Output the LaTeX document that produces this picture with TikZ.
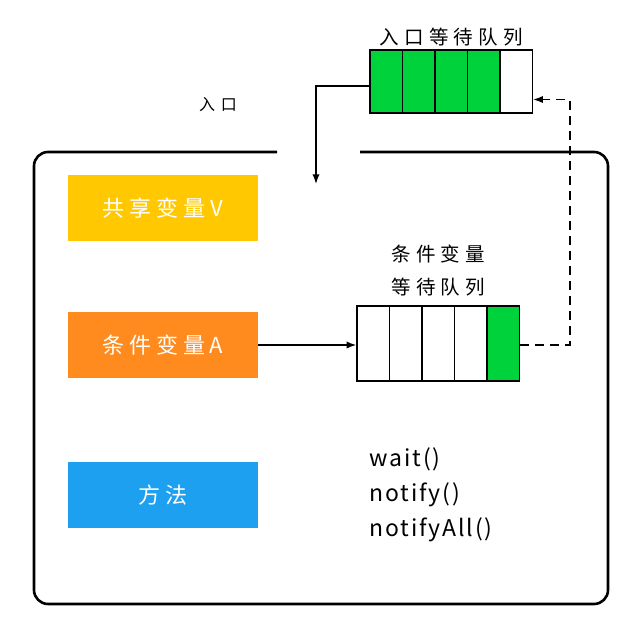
\documentclass[tikz,border=0pt]{standalone}
\usepackage{fontspec}
\setmainfont{Noto Sans CJK SC}
\usetikzlibrary{arrows.meta, positioning, calc}

\definecolor{qgreen}{RGB}{0,210,60}
\definecolor{varyellow}{RGB}{255,200,0}
\definecolor{varorange}{RGB}{255,138,30}
\definecolor{methblue}{RGB}{30,160,240}

\begin{document}
\begin{tikzpicture}[
  x=1pt, y=-1pt,
  frame/.style={line width=2.6pt, rounded corners=14pt},
  varbox/.style={minimum width=190pt, minimum height=66pt, text=white,
    font=\fontsize{22}{24}\selectfont\addfontfeature{LetterSpace=22}},
  cell/.style={draw, line width=1.4pt, minimum width=32.5pt, inner sep=0pt},
  label/.style={font=\fontsize{19.5}{33}\selectfont\addfontfeature{LetterSpace=28}, align=center},
  line/.style={-Latex, line width=1.5pt},
  dline/.style={-Latex, line width=1.5pt, dash pattern=on 9pt off 6pt},
  method/.style={anchor=west, font=\fontsize{23}{35}\selectfont\addfontfeature{LetterSpace=8}, align=left}
]
\useasboundingbox (0,0) rectangle (643,618);

% monitor frame, open at the entry
\draw[frame] (277,152) -- (34,152) -- (34,604) -- (608,604) -- (608,152) -- (360,152);
\node[font=\fontsize{16}{18}\selectfont\addfontfeature{LetterSpace=35}] (entry) at (218,105) {入口};

% entry wait queue
\foreach \i in {1,...,5}
  \node[cell, minimum height=63pt] (e\i) at (353.75+32.5*\i, 81.5) {};
\foreach \i in {1,...,4}
  \node[cell, minimum height=63pt, fill=qgreen] at (e\i) {};
\node[label, above=0pt of e3] (entryq) {入口等待队列};

% variables and methods
\node[varbox, fill=varyellow] (shared) at (163,208) {共享变量V};
\node[varbox, fill=varorange] (condA) at (163,345) {条件变量A};
\node[varbox, fill=methblue] (methods) at (163,495) {方法};

% condition wait queue
\foreach \i in {1,...,5}
  \node[cell, minimum height=75pt] (c\i) at (340.75+32.5*\i, 343.5) {};
\node[cell, minimum height=75pt, fill=qgreen] at (c5) {};
\node[label, above=6pt of c3] (condq) {条件变量\\等待队列};

\node[method] (calls) at (366,495) {wait()\\notify()\\notifyAll()};

% connectors
\coordinate (door) at (316,184);
\coordinate (bend) at (570,345);
\draw[line] ([yshift=-4.5pt]e1.west) -| (door);
\draw[line] (condA) -- (condA -| c1.west);
\draw[dline] (c5.east |- bend) -- (bend) |- ([yshift=-18pt]e5.east);
\end{tikzpicture}
\end{document}
